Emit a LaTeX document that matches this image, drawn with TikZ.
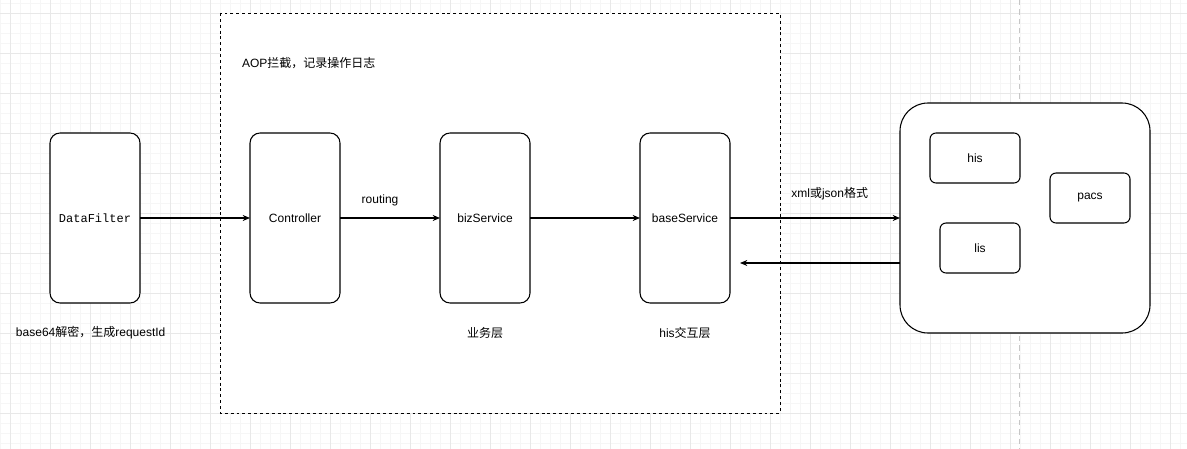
\documentclass[tikz,border=0pt]{standalone}
\usepackage{fontspec}
\usepackage{tikz}
\usetikzlibrary{arrows.meta}
\setmainfont{Liberation Sans}
\setmonofont{Liberation Mono}
\newfontfamily\cjk{Noto Sans CJK SC}

\tikzset{
  layer/.style={draw,thick,rounded corners=7.5pt,fill=white,minimum width=67.5pt,
    minimum height=127.5pt,inner sep=0pt,outer sep=0pt},
  sysbox/.style={draw,thick,rounded corners=4.5pt,fill=white,inner sep=0pt,outer sep=0pt,
    minimum height=37.5pt},
  note/.style={inner sep=0pt,outer sep=0pt}
}

\begin{document}
\begin{tikzpicture}[x=0.75pt,y=-0.75pt,font=\fontsize{9pt}{11pt}\selectfont,>={Stealth[length=5.5pt,width=4.5pt]}]
  \useasboundingbox (0,0) rectangle (1187,449);
  % background grid
  \foreach \gx in {0,10,...,1180} \draw[color=gray!7] (\gx,0) -- (\gx,449);
  \foreach \gy in {3,13,...,443} \draw[color=gray!7] (0,\gy) -- (1187,\gy);
  \foreach \gx in {10,50,...,1170} \draw[color=gray!18] (\gx,0) -- (\gx,449);
  \foreach \gy in {13,53,...,453} \draw[color=gray!18] (0,\gy) -- (1187,\gy);
  \draw[color=gray!45,dash pattern=on 4pt off 3pt] (1019,0) -- (1019,449);

  % AOP area
  \draw[fill=white,dash pattern=on 2.2pt off 2.2pt] (220,13) rectangle (780,413);
  \node[note,anchor=west] (aop) at (242,63) {AOP{\cjk 拦截，记录操作日志}};

  % layers
  \node[layer] (filter) at (95,218) {\ttfamily DataFilter};
  \node[layer] (ctrl) at (295,218) {Controller};
  \node[layer] (biz) at (485,218) {bizService};
  \node[layer] (base) at (685,218) {baseService};

  \node[note,anchor=west] (decode) at (16,333) {base64{\cjk 解密，生成}requestId};
  \node[note] (bizlbl) at (485,333) {\cjk 业务层};
  \node[note] (baselbl) at (685,333) {his{\cjk 交互层}};

  % hospital systems
  \draw[thick,fill=white,rounded corners=21pt] (900,103) rectangle (1150,333);
  \node[inner sep=0pt,outer sep=0pt,minimum width=187.5pt,minimum height=172.5pt] (hosp) at (1025,218) {};
  \node[sysbox,minimum width=67.5pt] (his) at (975,158) {his};
  \node[sysbox,minimum width=60pt] (pacs) at (1090,198) {pacs};
  \node[sysbox,minimum width=60pt] (lis) at (980,248) {lis};

  % connectors
  \draw[->,thick] (filter) -- (ctrl);
  \draw[->,thick] (ctrl) -- (biz) node[midway,above=5pt,xshift=-7.5pt] {routing};
  \draw[->,thick] (biz) -- (base);
  \draw[->,thick] (base) -- (hosp) node[midway,above=10pt,xshift=11pt] {xml{\cjk 或}json{\cjk 格式}};
  \coordinate (back) at (740,263);
  \draw[->,thick] (hosp.west |- back) -- (back);
\end{tikzpicture}
\end{document}
